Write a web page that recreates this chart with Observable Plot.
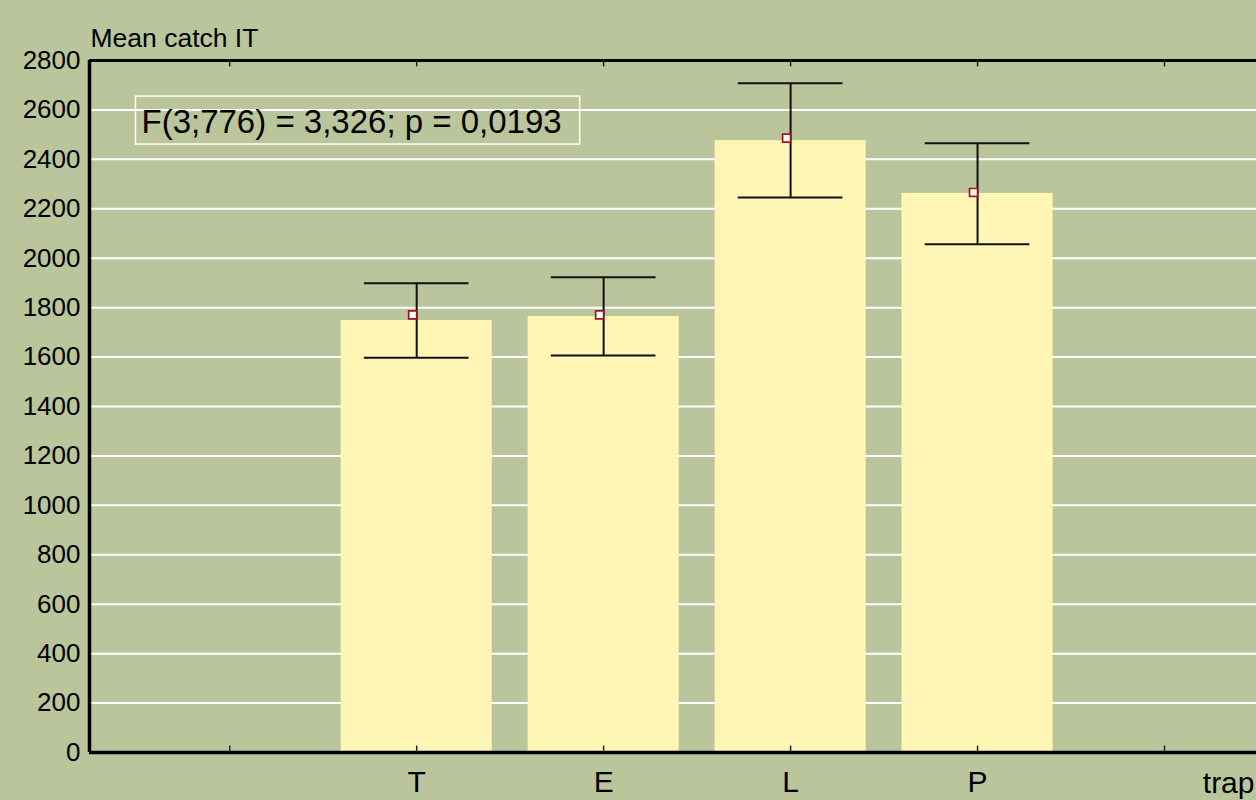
<!DOCTYPE html>
<html>
<head>
<meta charset="utf-8">
<script src="https://cdn.jsdelivr.net/npm/d3@7"></script>
<script src="https://cdn.jsdelivr.net/npm/@observablehq/plot@0.6"></script>
<style>
  html, body { margin: 0; padding: 0; background: #bac59b; }
  #chart svg { display: block; }
</style>
</head>
<body>
<div id="chart"></div>
<script>
// Data
const traps = ["T", "E", "L", "P"];
const trapIndex = [1, 2, 3, 4];
const barValues = [1748, 1764, 2476, 2262];
const meanValues = [1771, 1771, 2486, 2266];
const errLow = [1597, 1606, 2246, 2056];
const errHigh = [1899, 1923, 2708, 2465];
const tickLabels = ["", "T", "E", "L", "P", ""];
const tickPositions = [0, 1, 2, 3, 4, 5];
const yTicks = [0, 200, 400, 600, 800, 1000, 1200, 1400, 1600, 1800, 2000, 2200, 2400, 2600, 2800];
const gridTicks = yTicks.filter(d => d > 0 && d < 2800);
const annotation = "F(3;776) = 3,326; p = 0,0193";
const yLabel = "Mean catch IT";
const xLabel = "trap";

const rows = traps.map((t, i) => ({
  trap: t, i: trapIndex[i], bar: barValues[i], mean: meanValues[i], lo: errLow[i], hi: errHigh[i]
}));

const barHalf = 0.404;
const capHalf = 0.28;
const font = "'Liberation Sans', Arial, sans-serif";

const chart = Plot.plot({
  width: 1256,
  height: 800,
  marginLeft: 89,
  marginRight: 0,
  marginTop: 60,
  marginBottom: 48,
  style: { background: "#bac59b", fontFamily: font, color: "#000" },
  x: { type: "linear", domain: [-0.75, 5.492], axis: null },
  y: { domain: [0, 2800], axis: null },
  marks: [
    Plot.ruleY(gridTicks, { stroke: "#ffffff", strokeWidth: 2 }),
    Plot.rectY(rows, { x1: d => d.i - barHalf, x2: d => d.i + barHalf, y1: 0, y2: "bar", fill: "#fff6b5" }),
    Plot.ruleX(rows, { x: "i", y1: "lo", y2: "hi", stroke: "#111", strokeWidth: 2 }),
    Plot.ruleY(rows, { y: "hi", x1: d => d.i - capHalf, x2: d => d.i + capHalf, stroke: "#111", strokeWidth: 2 }),
    Plot.ruleY(rows, { y: "lo", x1: d => d.i - capHalf, x2: d => d.i + capHalf, stroke: "#111", strokeWidth: 2 }),
    Plot.dot(rows, { x: "i", y: "mean", symbol: "square", r: 4.5, fill: "#ffffff", stroke: "#a0161c", strokeWidth: 1.7, dx: -4 }),
    // frame
    Plot.ruleY([0], { stroke: "#000", strokeWidth: 3.5 }),
    Plot.ruleY([2800], { stroke: "#000", strokeWidth: 3 }),
    Plot.ruleX([-0.75], { stroke: "#000", strokeWidth: 3.5 }),
    // inward ticks
    Plot.ruleX(tickPositions, { x: d => d, y1: 0, y2: 26, stroke: "#222", strokeWidth: 1.5 }),
    Plot.ruleX(tickPositions, { x: d => d, y1: 2800, y2: 2774, stroke: "#222", strokeWidth: 1.5 }),
    // y axis labels
    Plot.axisY({ ticks: yTicks, tickSize: 0, tickPadding: 9, fontSize: 26, label: null, tickFormat: d => String(d) }),
    // x axis labels
    Plot.axisX({ ticks: tickPositions, tickSize: 0, tickPadding: 18, fontSize: 30, label: null, tickFormat: d => tickLabels[d] }),
    Plot.text([xLabel], { frameAnchor: "bottom-right", text: d => d, textAnchor: "end", lineAnchor: "middle", dy: 31, dx: -2, fontSize: 30 }),
    Plot.text([yLabel], { frameAnchor: "top-left", text: d => d, textAnchor: "start", lineAnchor: "middle", dx: 1, dy: -22, fontSize: 26.5 }),
    Plot.text([annotation], { frameAnchor: "top-left", text: d => d, textAnchor: "start", lineAnchor: "middle", dx: 52, dy: 62, fontSize: 33, className: "anno" })
  ]
});

document.getElementById("chart").appendChild(chart);

// box around annotation
const t = chart.querySelector(".anno text");
if (t) {
  const bb = t.getBBox();
  const g = t.closest("g");
  const rect = document.createElementNS("http://www.w3.org/2000/svg", "rect");
  rect.setAttribute("x", bb.x - 6);
  rect.setAttribute("y", bb.y - 7);
  rect.setAttribute("width", bb.width + 24);
  rect.setAttribute("height", bb.height + 11);
  rect.setAttribute("fill", "none");
  rect.setAttribute("stroke", "#ffffff");
  rect.setAttribute("stroke-width", 1.5);
  const tr = t.getAttribute("transform");
  if (tr) rect.setAttribute("transform", tr);
  g.insertBefore(rect, t);
}
</script>
</body>
</html>
